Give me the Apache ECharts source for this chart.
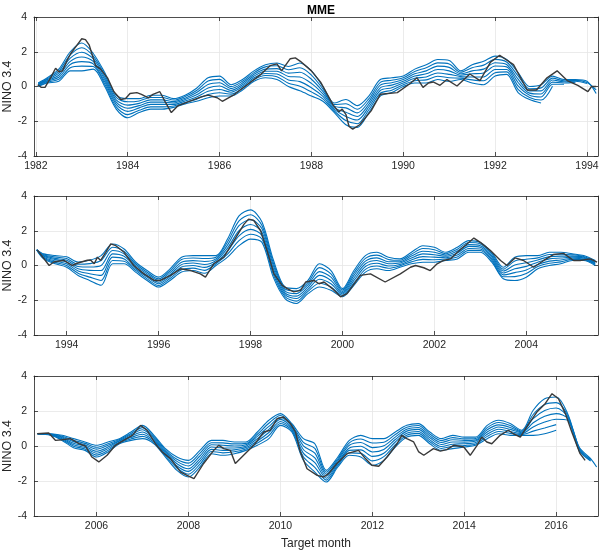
<!DOCTYPE html>
<html>
<head>
<meta charset="utf-8">
<script src="https://cdn.jsdelivr.net/npm/echarts@6/dist/echarts.min.js"></script>
<style>
  html, body { margin: 0; padding: 0; background: #fff; }
  #main { width: 600px; height: 552px; }
</style>
</head>
<body>
<div id="main"></div>
<script>
// observed Nino 3.4, [year, value]
const obs1 = [
  [1982.04,0.1],[1982.12,-0.05],[1982.2,-0.05],[1982.32,0.5],[1982.43,1.05],[1982.5,0.85],[1982.58,0.9],
  [1982.68,1.5],[1982.76,1.9],[1982.9,2.4],[1983.0,2.75],[1983.08,2.7],[1983.16,2.4],[1983.3,1.2],
  [1983.41,1.0],[1983.56,0.5],[1983.7,-0.3],[1983.85,-0.75],[1983.95,-0.7],[1984.05,-0.4],[1984.2,-0.35],
  [1984.3,-0.45],[1984.45,-0.65],[1984.55,-0.45],[1984.7,-0.3],[1984.82,-0.9],[1984.95,-1.5],[1985.1,-1.1],
  [1985.3,-0.9],[1985.6,-0.6],[1985.75,-0.5],[1985.95,-0.65],[1986.06,-0.85],[1986.3,-0.5],[1986.6,0.1],
  [1986.9,0.7],[1987.1,1.2],[1987.25,1.3],[1987.35,0.9],[1987.54,1.6],[1987.65,1.65],[1987.76,1.45],
  [1988.0,0.9],[1988.2,0.25],[1988.48,-1.1],[1988.6,-1.45],[1988.67,-1.3],[1988.75,-1.6],[1988.82,-2.3],
  [1988.9,-2.45],[1989.05,-2.2],[1989.3,-1.4],[1989.5,-0.45],[1989.87,-0.35],[1990.15,0.17],[1990.3,0.5],
  [1990.43,-0.05],[1990.55,0.2],[1990.65,0.26],[1990.8,0.07],[1990.95,0.4],[1991.17,0.03],[1991.45,0.72],
  [1991.67,0.34],[1991.9,1.4],[1992.1,1.8],[1992.4,1.26],[1992.7,-0.2],[1992.9,-0.2],[1993.13,0.5],
  [1993.35,0.9],[1993.57,0.34],[1993.8,0.06],[1994.02,-0.3],[1994.1,0.0],[1994.2,0.0]
];
const obs2 = [
  [1993.36,0.9],[1993.62,0.0],[1993.72,0.2],[1993.94,0.3],[1994.12,0.0],[1994.23,0.13],[1994.45,0.3],
  [1994.52,0.32],[1994.6,0.1],[1994.67,0.48],[1994.74,0.29],[1994.85,0.76],[1994.96,1.24],[1995.07,1.14],
  [1995.25,0.76],[1995.46,0.0],[1995.68,-0.48],[1995.9,-0.86],[1996.04,-0.86],[1996.26,-0.57],[1996.48,-0.19],
  [1996.7,-0.29],[1996.91,-0.48],[1997.02,-0.67],[1997.2,0.1],[1997.42,0.48],[1997.64,1.43],[1997.86,2.38],
  [1997.96,2.67],[1998.07,2.6],[1998.22,2.0],[1998.36,0.86],[1998.51,-0.48],[1998.69,-1.14],[1998.8,-1.33],
  [1998.94,-1.52],[1999.09,-1.43],[1999.2,-0.95],[1999.38,-0.86],[1999.49,-1.05],[1999.6,-0.95],[1999.78,-1.33],
  [1999.96,-1.8],[2000.1,-1.62],[2000.39,-0.57],[2000.61,-0.48],[2000.93,-0.95],[2001.26,-0.48],[2001.48,-0.1],
  [2001.59,0.0],[2001.77,-0.13],[2001.91,-0.29],[2002.06,0.1],[2002.2,0.29],[2002.35,0.38],[2002.5,0.76],
  [2002.71,1.24],[2002.86,1.58],[2003.0,1.33],[2003.22,0.86],[2003.44,0.29],[2003.58,0.0],[2003.76,0.44],
  [2003.94,0.29],[2004.16,-0.1],[2004.38,0.29],[2004.59,0.63],[2004.81,0.7],[2005.03,0.29],[2005.17,0.29],
  [2005.39,0.38],[2005.54,0.19]
];
const obs3 = [
  [2004.71,0.7],[2004.96,0.74],[2005.11,0.32],[2005.25,0.36],[2005.43,0.42],[2005.62,0.13],[2005.76,0.0],
  [2005.9,-0.63],[2006.05,-0.91],[2006.23,-0.53],[2006.41,0.04],[2006.59,0.32],[2006.78,0.61],[2006.96,1.18],
  [2007.1,0.9],[2007.28,0.13],[2007.43,-0.34],[2007.61,-0.72],[2007.83,-1.49],[2007.97,-1.68],[2008.12,-1.87],
  [2008.33,-1.0],[2008.55,-0.25],[2008.66,0.04],[2008.77,-0.15],[2008.91,-0.25],[2009.02,-1.0],[2009.2,-0.53],
  [2009.42,0.04],[2009.64,0.8],[2009.78,0.9],[2009.93,1.56],[2010.07,1.66],[2010.22,1.28],[2010.33,0.8],
  [2010.43,-0.3],[2010.58,-1.3],[2010.8,-1.68],[2010.94,-1.77],[2011.05,-1.58],[2011.23,-1.0],[2011.45,-0.44],
  [2011.7,-0.25],[2011.85,-0.72],[2011.99,-1.1],[2012.14,-1.16],[2012.32,-0.63],[2012.54,0.13],[2012.64,0.61],
  [2012.75,0.42],[2012.9,0.23],[2013.01,-0.34],[2013.12,-0.53],[2013.33,-0.15],[2013.48,-0.29],[2013.62,-0.21],
  [2013.77,0.04],[2013.99,-0.06],[2014.13,-0.53],[2014.28,0.04],[2014.38,0.51],[2014.49,0.23],[2014.6,0.13],
  [2014.78,0.61],[2014.96,0.9],[2015.07,0.7],[2015.22,0.51],[2015.36,1.09],[2015.58,1.94],[2015.76,2.42],
  [2015.91,2.99],[2016.05,2.7],[2016.2,1.85],[2016.34,0.8],[2016.52,-0.44],[2016.63,-0.82]
];

// MME forecast plume: one row per sample time, one column per forecast line
const fc1 = [
  [0.2,0.17,0.13,0.1,0.07,0.03,0],
  [0.5,0.45,0.4,0.35,0.3,0.25,0.2],
  [1.0,0.88,0.77,0.65,0.53,0.42,0.3],
  [2.0,1.82,1.63,1.45,1.27,1.08,0.9],
  [2.5,2.23,1.97,1.7,1.43,1.17,0.9],
  [1.9,1.75,1.6,1.45,1.3,1.15,1.0],
  [0.8,0.67,0.53,0.4,0.27,0.13,0],
  [-0.5,-0.63,-0.77,-0.9,-1.03,-1.17,-1.3],
  [-0.7,-0.88,-1.07,-1.25,-1.43,-1.62,-1.8],
  [-0.7,-0.83,-0.97,-1.1,-1.23,-1.37,-1.5],
  [-0.5,-0.63,-0.77,-0.9,-1.03,-1.17,-1.3],
  [-0.5,-0.63,-0.77,-0.9,-1.03,-1.17,-1.3],
  [-0.7,-0.78,-0.87,-0.95,-1.03,-1.12,-1.2],
  [-0.5,-0.58,-0.67,-0.75,-0.83,-0.92,-1.0],
  [-0.1,-0.23,-0.35,-0.48,-0.6,-0.73,-0.85],
  [0.5,0.31,0.12,-0.08,-0.27,-0.46,-0.65],
  [0.6,0.41,0.22,0.03,-0.17,-0.36,-0.55],
  [0.1,-0.01,-0.12,-0.23,-0.33,-0.44,-0.55],
  [0.4,0.3,0.2,0.1,0,-0.1,-0.2],
  [0.9,0.8,0.7,0.6,0.5,0.4,0.3],
  [1.25,1.13,1.0,0.88,0.75,0.63,0.5],
  [1.35,1.19,1.03,0.88,0.72,0.56,0.4],
  [1.15,0.96,0.77,0.58,0.38,0.19,0],
  [1.35,1.08,0.82,0.55,0.28,0.02,-0.25],
  [0.9,0.66,0.42,0.18,-0.07,-0.31,-0.55],
  [0,-0.14,-0.28,-0.43,-0.57,-0.71,-0.85],
  [-0.95,-1.04,-1.13,-1.23,-1.32,-1.41,-1.5],
  [-0.75,-0.99,-1.23,-1.48,-1.72,-1.96,-2.2],
  [-1.1,-1.31,-1.52,-1.73,-1.93,-2.14,-2.35],
  [-0.55,-0.71,-0.87,-1.03,-1.18,-1.34,-1.5],
  [0.4,0.24,0.08,-0.08,-0.23,-0.39,-0.55],
  [0.5,0.36,0.22,0.08,-0.07,-0.21,-0.35],
  [0.6,0.5,0.4,0.3,0.2,0.1,0],
  [1.0,0.87,0.73,0.6,0.47,0.33,0.2],
  [1.25,1.08,0.9,0.73,0.55,0.38,0.2],
  [1.55,1.36,1.17,0.98,0.78,0.59,0.4],
  [1.5,1.3,1.1,0.9,0.7,0.5,0.3],
  [0.9,0.82,0.73,0.65,0.57,0.48,0.4],
  [1.25,1.08,0.9,0.73,0.55,0.38,0.2],
  [1.45,1.23,1.0,0.78,0.55,0.33,0.1],
  [1.75,1.56,1.37,1.18,0.98,0.79,0.6],
  [1.55,1.41,1.27,1.13,0.98,0.84,0.7],
  [0.8,0.61,0.42,0.23,0.03,-0.16,-0.35],
  [0,-0.13,-0.25,-0.38,-0.5,-0.63,-0.75],
  [0.1,-0.08,-0.25,-0.43,-0.6,-0.78,-0.95],
  [0.6,0.48,0.37,0.25,0.13,0.02,null],
  [0.4,0.33,0.27,0.2,0.13,null,null],
  [0.4,0.35,0.3,0.25,null,null,null],
  [0.3,0.23,0.17,null,null,null,null],
  [-0.4,-0.2,null,null,null,null,null]
];
const fc2 = [
  [0.9,0.9,0.9,0.9,0.9,0.9,0.9],
  [0.67,0.62,0.57,0.53,0.48,0.43,0.38],
  [0.57,0.49,0.41,0.34,0.26,0.18,0.1],
  [0.5,0.4,0.3,0.2,0.1,0,-0.1],
  [0.2,0.07,-0.06,-0.19,-0.31,-0.44,-0.57],
  [0.3,0.11,-0.09,-0.28,-0.47,-0.67,-0.86],
  [0.57,0.29,0,-0.29,-0.57,-0.86,-1.14],
  [1.24,1.05,0.86,0.67,0.48,0.29,0.1],
  [0.95,0.81,0.67,0.53,0.38,0.24,0.1],
  [0.2,0.1,0.01,-0.09,-0.19,-0.28,-0.38],
  [-0.29,-0.39,-0.48,-0.58,-0.67,-0.77,-0.86],
  [-0.67,-0.77,-0.86,-0.96,-1.05,-1.15,-1.24],
  [-0.19,-0.3,-0.41,-0.53,-0.64,-0.75,-0.86],
  [0.48,0.34,0.19,0.05,-0.09,-0.24,-0.38],
  [0.57,0.43,0.28,0.14,0,-0.15,-0.29],
  [0.57,0.4,0.23,0.06,-0.11,-0.28,-0.45],
  [0.57,0.48,0.38,0.29,0.19,0.1,0],
  [1.52,1.35,1.17,1.0,0.83,0.65,0.48],
  [2.86,2.57,2.29,2.0,1.71,1.43,1.14],
  [3.2,2.92,2.64,2.36,2.08,1.8,1.52],
  [2.5,2.3,2.11,1.91,1.72,1.52,1.33],
  [0.3,0.13,-0.03,-0.2,-0.37,-0.53,-0.7],
  [-1.24,-1.35,-1.46,-1.57,-1.68,-1.79,-1.9],
  [-1.33,-1.47,-1.62,-1.76,-1.9,-2.05,-2.19],
  [-0.86,-0.99,-1.11,-1.24,-1.37,-1.49,-1.62],
  [0.1,-0.12,-0.35,-0.57,-0.79,-1.02,-1.24],
  [-0.29,-0.48,-0.67,-0.86,-1.05,-1.24,-1.43],
  [-1.33,-1.41,-1.49,-1.57,-1.64,-1.72,-1.8],
  [-0.29,-0.43,-0.57,-0.72,-0.86,-1.0,-1.14],
  [0.57,0.41,0.25,0.1,-0.06,-0.22,-0.38],
  [0.76,0.6,0.44,0.29,0.13,-0.03,-0.19],
  [0.48,0.35,0.22,0.1,-0.03,-0.16,-0.29],
  [0.38,0.3,0.22,0.14,0.06,-0.02,-0.1],
  [0.76,0.65,0.54,0.43,0.32,0.21,0.1],
  [1.14,0.98,0.82,0.67,0.51,0.35,0.19],
  [1.05,0.91,0.76,0.62,0.48,0.33,0.19],
  [0.76,0.68,0.6,0.53,0.45,0.37,0.29],
  [1.05,0.94,0.83,0.72,0.6,0.49,0.38],
  [1.43,1.32,1.2,1.1,0.98,0.87,0.76],
  [1.33,1.24,1.14,1.05,0.95,0.86,0.76],
  [0.76,0.67,0.57,0.48,0.38,0.29,0.19],
  [-0.1,-0.21,-0.32,-0.43,-0.54,-0.65,-0.76],
  [0.48,0.26,0.03,-0.19,-0.41,-0.64,-0.86],
  [0.57,0.36,0.16,-0.05,-0.26,-0.46,-0.67],
  [0.57,0.44,0.32,0.19,0.06,-0.06,-0.19],
  [0.76,0.63,0.51,0.38,0.25,0.13,0],
  [0.76,0.65,0.54,0.43,0.32,0.21,0.1],
  [0.67,0.61,0.54,0.48,0.42,0.35,0.29],
  [0.57,0.52,0.48,0.43,0.38,0.34,0.29],
  [0.29,0.24,0.19,0.15,0.1,0.05,0]
];
const fc3 = [
  [0.7,0.7,0.7,0.7,0.7,0.7,0.7],
  [0.7,0.69,0.67,0.66,0.64,0.63,0.61],
  [0.61,0.56,0.51,0.47,0.42,0.37,0.32],
  [0.42,0.33,0.25,0.16,0.07,-0.01,-0.1],
  [0.23,0.15,0.07,-0.01,-0.09,-0.17,-0.25],
  [0.04,-0.07,-0.18,-0.3,-0.41,-0.52,-0.63],
  [0.23,0.13,0.04,-0.06,-0.15,-0.25,-0.34],
  [0.42,0.37,0.32,0.28,0.23,0.18,0.13],
  [0.8,0.72,0.64,0.56,0.48,0.4,0.32],
  [1.18,1.05,0.93,0.8,0.67,0.55,0.42],
  [0.61,0.53,0.45,0.37,0.29,0.21,0.13],
  [-0.15,-0.23,-0.31,-0.39,-0.47,-0.55,-0.63],
  [-0.63,-0.76,-0.88,-1.01,-1.14,-1.26,-1.39],
  [-0.82,-0.98,-1.14,-1.3,-1.45,-1.61,-1.77],
  [-0.25,-0.41,-0.57,-0.73,-0.88,-1.04,-1.2],
  [0.32,0.19,0.07,-0.06,-0.19,-0.31,-0.44],
  [0.32,0.18,0.04,-0.11,-0.25,-0.39,-0.53],
  [0.23,0.12,0,-0.11,-0.22,-0.33,-0.44],
  [0.23,0.15,0.07,-0.01,-0.09,-0.17,-0.25],
  [0.8,0.67,0.55,0.42,0.29,0.17,0.04],
  [1.47,1.3,1.12,0.95,0.77,0.6,0.42],
  [1.85,1.74,1.63,1.52,1.4,1.29,1.18],
  [1.28,1.2,1.12,1.04,0.96,0.88,0.8],
  [0.42,0.21,0.01,-0.2,-0.41,-0.61,-0.82],
  [0.13,-0.14,-0.41,-0.68,-0.95,-1.22,-1.49],
  [-1.39,-1.5,-1.61,-1.73,-1.84,-1.95,-2.06],
  [-0.63,-0.73,-0.82,-0.92,-1.01,-1.11,-1.2],
  [0.32,0.18,0.04,-0.11,-0.25,-0.39,-0.53],
  [0.61,0.4,0.2,-0.01,-0.22,-0.42,-0.63],
  [0.42,0.17,-0.09,-0.34,-0.59,-0.85,-1.1],
  [0.42,0.21,0.01,-0.2,-0.41,-0.61,-0.82],
  [0.8,0.66,0.51,0.37,0.23,0.08,-0.06],
  [1.18,1.07,0.96,0.85,0.73,0.62,0.51],
  [1.28,1.17,1.06,0.95,0.83,0.72,0.61],
  [0.8,0.69,0.58,0.47,0.35,0.24,0.13],
  [0.42,0.31,0.2,0.09,-0.03,-0.14,-0.25],
  [0.61,0.48,0.36,0.23,0.1,-0.02,-0.15],
  [0.51,0.41,0.32,0.22,0.13,0.03,-0.06],
  [0.51,0.43,0.35,0.28,0.2,0.12,0.04],
  [1.18,1.05,0.93,0.8,0.67,0.55,0.42],
  [1.47,1.34,1.21,1.09,0.96,0.83,0.7],
  [1.28,1.17,1.06,0.95,0.83,0.72,0.61],
  [0.9,0.85,0.8,0.76,0.71,0.66,0.61],
  [2.04,1.8,1.56,1.33,1.09,0.85,0.61],
  [2.7,2.37,2.03,1.7,1.37,1.03,0.7],
  [2.8,2.48,2.17,1.85,1.53,1.22,0.9],
  [1.85,1.76,1.66,1.57,1.47,null,null],
  [-0.06,-0.12,-0.19,-0.25,-0.31,null,null],
  [-0.72,-0.77,-0.81,-0.86,null,null,null],
  [-1.2,null,null,null,null,null,null]
];

// x extents of the three panels (years)
const xRanges = [[1981.96, 1994.24], [1993.29, 2005.56], [2004.64, 2016.91]];
const yTicks = [-4, -2, 0, 2, 4];

function quarters(a, b) {
  var out = [];
  for (var t = a; t <= b + 1e-6; t += 0.25) out.push(+t.toFixed(2));
  return out;
}
const fcTimes1 = [1982.05].concat(quarters(1982.25, 1994.0), [1994.2]);
const fcTimes2 = [1993.35].concat(quarters(1993.5, 2005.5));
const fcTimes3 = [2004.72].concat(quarters(2005.0, 2016.75), [2016.88]);

const panels = [
  { obs: obs1, fc: fc1, times: fcTimes1 },
  { obs: obs2, fc: fc2, times: fcTimes2 },
  { obs: obs3, fc: fc3, times: fcTimes3 }
];

const FONT = "'Liberation Sans', Arial, Helvetica, sans-serif";
const INK = '#262626';
const BLUE = '#0072bd';
const gridTops = [17, 196, 376];
const gridHeights = [139, 139, 140];

var grid = [], xAxis = [], yAxis = [], series = [];
panels.forEach(function (p, i) {
  grid.push({
    left: 34, right: 2, top: gridTops[i], height: gridHeights[i],
    containLabel: false, outerBoundsMode: 'none'
  });
  var line = { show: true, onZero: false, lineStyle: { color: INK, width: 0.8 } };
  var tick = { show: true, inside: true, length: 4, lineStyle: { color: INK, width: 0.8 } };
  xAxis.push({
    type: 'value', gridIndex: i, min: xRanges[i][0], max: xRanges[i][1],
    minInterval: 2, maxInterval: 2, splitNumber: 6,
    axisLine: line, axisTick: tick,
    axisLabel: {
      color: INK, fontFamily: FONT, fontSize: 10.5, margin: 5,
      showMinLabel: false, showMaxLabel: false,
      formatter: function (v) { return Math.abs(v % 2) < 1e-6 ? String(Math.round(v)) : ''; }
    },
    splitLine: { show: true, lineStyle: { color: '#e6e6e6', width: 0.8 } },
    name: i === 2 ? 'Target month' : '', nameLocation: 'middle', nameGap: 22,
    nameMoveOverlap: false,
    nameTextStyle: { color: INK, fontFamily: FONT, fontSize: 12 }
  });
  xAxis.push({
    type: 'value', gridIndex: i, position: 'top', min: xRanges[i][0], max: xRanges[i][1],
    minInterval: 2, maxInterval: 2, splitNumber: 6,
    axisLine: line, axisTick: tick, axisLabel: { show: false }, splitLine: { show: false }
  });
  yAxis.push({
    type: 'value', gridIndex: i, min: yTicks[0], max: yTicks[yTicks.length - 1], interval: 2,
    axisLine: line, axisTick: tick,
    axisLabel: { color: INK, fontFamily: FONT, fontSize: 10.5, margin: 7 },
    splitLine: { show: true, lineStyle: { color: '#e6e6e6', width: 0.8 } },
    name: 'NINO 3.4', nameLocation: 'middle', nameGap: 20, nameMoveOverlap: false,
    nameTextStyle: { color: INK, fontFamily: FONT, fontSize: 12.5 }
  });
  yAxis.push({
    type: 'value', gridIndex: i, position: 'right', min: -4, max: 4, interval: 2,
    axisLine: line, axisTick: tick, axisLabel: { show: false }, splitLine: { show: false }
  });

  var nLines = p.fc[0].length;
  for (var k = 0; k < nLines; k++) {
    series.push({
      type: 'line', xAxisIndex: 2 * i, yAxisIndex: 2 * i, smooth: 0.3,
      showSymbol: false, silent: true, z: 2,
      lineStyle: { color: BLUE, width: 1.1 },
      data: p.times.map(function (t, r) { return [t, p.fc[r][k]]; })
    });
  }
  series.push({
    type: 'line', xAxisIndex: 2 * i, yAxisIndex: 2 * i,
    showSymbol: false, silent: true, z: 3,
    lineStyle: { color: '#3a3a3a', width: 1.4 },
    data: p.obs
  });
});

const option = {
  animation: false,
  backgroundColor: '#fff',
  title: {
    text: 'MME', left: 316, top: 0, textAlign: 'center',
    textStyle: { color: '#000', fontFamily: FONT, fontSize: 12, fontWeight: 'bold' }
  },
  grid: grid,
  xAxis: xAxis,
  yAxis: yAxis,
  series: series
};

var myChart = echarts.init(document.getElementById('main'));
myChart.setOption(option);
window.onresize = function () { myChart.resize(); };
</script>
</body>
</html>
